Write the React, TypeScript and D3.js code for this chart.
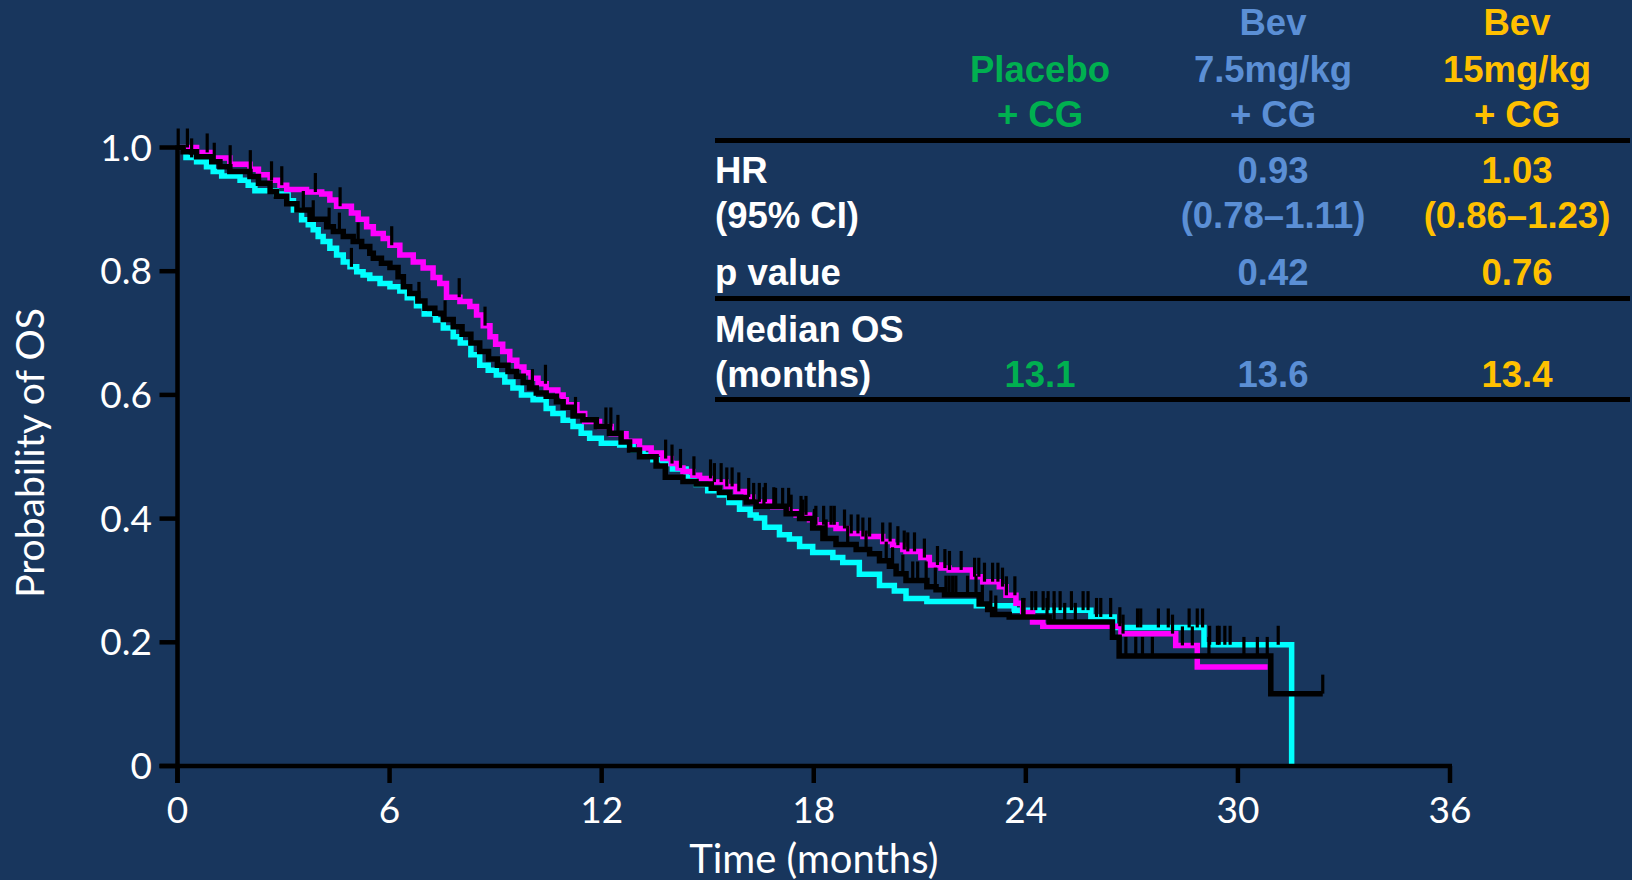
import React from "react";
import * as d3 from "d3";

// ---------- DATA ----------
const xTickValues = [0, 6, 12, 18, 24, 30, 36];
const yTickValues = [0, 0.2, 0.4, 0.6, 0.8, 1.0];
const yTickLabels = ["0", "0.2", "0.4", "0.6", "0.8", "1.0"];

// Kaplan–Meier steps [time (months), survival]
const cyanSteps: [number, number][] = [
  [0, 1], [0.24, 0.984], [0.54, 0.977], [0.82, 0.969], [1.01, 0.961], [1.25, 0.954], [1.77, 0.947],
  [2.0, 0.939], [2.19, 0.93], [2.8, 0.925], [3.13, 0.914], [3.28, 0.899], [3.51, 0.883], [3.7, 0.875],
  [3.84, 0.867], [3.98, 0.856], [4.12, 0.848], [4.31, 0.837], [4.5, 0.826], [4.69, 0.815], [4.88, 0.807],
  [5.07, 0.799], [5.25, 0.794], [5.44, 0.788], [5.73, 0.78], [6.01, 0.775], [6.29, 0.768], [6.5, 0.757],
  [6.76, 0.744], [6.98, 0.731], [7.3, 0.721], [7.52, 0.708], [7.8, 0.694], [8.0, 0.684], [8.3, 0.665],
  [8.55, 0.648], [8.79, 0.64], [9.02, 0.632], [9.26, 0.621], [9.49, 0.611], [9.73, 0.6], [10.06, 0.592],
  [10.43, 0.578], [10.62, 0.57], [10.91, 0.559], [11.19, 0.549], [11.42, 0.538], [11.66, 0.53],
  [11.99, 0.522], [12.51, 0.519], [12.89, 0.511], [13.17, 0.503], [13.45, 0.495], [13.73, 0.489],
  [14.0, 0.48], [14.39, 0.467], [14.67, 0.455], [15.0, 0.445], [15.33, 0.438], [15.6, 0.426],
  [15.9, 0.415], [16.2, 0.406], [16.37, 0.401], [16.61, 0.386], [17.03, 0.374], [17.31, 0.367],
  [17.6, 0.355], [17.97, 0.345], [18.54, 0.337], [18.82, 0.329], [19.29, 0.31], [19.86, 0.292],
  [20.28, 0.283], [20.61, 0.271], [21.2, 0.266], [22.6, 0.259], [23.67, 0.252], [25.84, 0.241],
  [26.5, 0.224], [29.04, 0.196], [31.52, 0],
];
const cyanEnd = 31.52;
const cyanCensored = [
  0.4, 4.92, 24.17, 24.28, 24.49, 24.63, 24.8, 24.97, 25.29, 25.62, 25.76, 26.0, 26.12, 26.4, 27.16,
  27.25, 27.75, 28.03, 28.62, 28.85, 29.0, 29.2, 29.42, 29.47, 29.63, 29.78, 31.14,
];

const blackSteps: [number, number][] = [
  [0, 1], [0.16, 0.993], [0.54, 0.985], [0.97, 0.977], [1.2, 0.969], [1.48, 0.961], [2.05, 0.953],
  [2.29, 0.942], [2.62, 0.929], [2.8, 0.921], [3.09, 0.909], [3.38, 0.899], [3.75, 0.884], [4.22, 0.872],
  [4.41, 0.864], [4.69, 0.856], [4.97, 0.848], [5.21, 0.84], [5.44, 0.829], [5.54, 0.821], [5.77, 0.813],
  [6.01, 0.806], [6.24, 0.791], [6.39, 0.775], [6.57, 0.764], [6.8, 0.752], [7.0, 0.74], [7.28, 0.732],
  [7.52, 0.722], [7.8, 0.71], [8.05, 0.698], [8.3, 0.684], [8.55, 0.67], [8.8, 0.658], [9.05, 0.648],
  [9.35, 0.638], [9.59, 0.63], [9.78, 0.62], [9.96, 0.611], [10.15, 0.603], [10.43, 0.598], [10.72, 0.589],
  [10.91, 0.58], [11.19, 0.566], [11.47, 0.56], [11.85, 0.549], [12.22, 0.538], [12.55, 0.524],
  [12.79, 0.511], [13.07, 0.5], [13.54, 0.485], [13.8, 0.467], [14.3, 0.46], [14.67, 0.456], [15.1, 0.449],
  [15.33, 0.442], [15.62, 0.434], [16.09, 0.427], [16.37, 0.42], [17.22, 0.408], [17.6, 0.4],
  [17.97, 0.385], [18.26, 0.368], [18.63, 0.358], [19.2, 0.35], [19.58, 0.343], [19.86, 0.332],
  [20.14, 0.323], [20.33, 0.311], [20.61, 0.3], [21.2, 0.29], [21.46, 0.285], [21.7, 0.277],
  [22.68, 0.262], [22.92, 0.253], [23.06, 0.245], [23.53, 0.241], [24.66, 0.233], [26.45, 0.208],
  [26.64, 0.178], [30.93, 0.117],
];
const blackEnd = 32.4;
const blackCensored = [
  0.02, 1.04, 3.56, 3.84, 4.29, 4.58, 5.11, 6.83, 7.57, 10.04, 11.26, 16.59, 16.87, 17.36, 17.69, 18.02,
  18.35, 18.96, 19.48, 20.05, 20.23, 20.52, 20.8, 20.94, 21.18, 21.44, 21.74, 21.83, 21.93, 22.02, 22.35,
  22.59, 22.77, 23.01, 23.15, 23.91, 23.95, 24.6, 24.8, 25.1, 25.4, 26.83, 27.11, 27.3, 27.58, 29.18,
  30.17, 30.55, 30.83, 32.4,
];

const magentaSteps: [number, number][] = [
  [0, 1], [0.54, 0.992], [0.97, 0.983], [1.48, 0.973], [2.05, 0.965], [2.29, 0.956], [2.62, 0.947],
  [2.9, 0.939], [3.09, 0.932], [3.65, 0.928], [4.08, 0.925], [4.31, 0.915], [4.5, 0.905], [4.92, 0.894],
  [5.11, 0.884], [5.35, 0.872], [5.54, 0.861], [5.82, 0.853], [6.01, 0.842], [6.29, 0.826], [6.67, 0.815],
  [6.95, 0.805], [7.23, 0.79], [7.42, 0.78], [7.61, 0.758], [7.99, 0.751], [8.27, 0.743], [8.46, 0.729],
  [8.65, 0.712], [8.84, 0.694], [9.0, 0.682], [9.2, 0.67], [9.4, 0.656], [9.6, 0.645], [9.8, 0.636],
  [10.0, 0.627], [10.2, 0.618], [10.43, 0.608], [10.76, 0.6], [10.91, 0.592], [11.0, 0.584], [11.3, 0.57],
  [11.52, 0.557], [11.94, 0.549], [12.27, 0.537], [12.69, 0.525], [13.07, 0.514], [13.4, 0.506],
  [13.73, 0.497], [13.97, 0.489], [14.16, 0.482], [14.3, 0.476], [14.58, 0.47], [14.77, 0.465],
  [15.1, 0.459], [15.52, 0.452], [15.8, 0.444], [16.09, 0.435], [16.28, 0.427], [16.84, 0.419],
  [17.31, 0.411], [17.5, 0.406], [17.88, 0.398], [18.06, 0.39], [18.63, 0.384], [19.01, 0.376],
  [19.39, 0.371], [19.95, 0.363], [20.23, 0.357], [20.52, 0.35], [20.61, 0.347], [21.03, 0.337],
  [21.27, 0.325], [21.6, 0.32], [21.83, 0.317], [22.49, 0.306], [22.78, 0.298], [23.25, 0.29],
  [23.44, 0.276], [23.72, 0.263], [23.91, 0.248], [24.19, 0.233], [24.48, 0.226], [26.69, 0.214],
  [28.24, 0.195], [28.85, 0.16],
];
const magentaEnd = 30.84;
const magentaCensored = [
  0.28, 0.84, 1.49, 2.06, 2.66, 2.95, 3.9, 4.6, 6.06, 7.97, 8.7, 10.41, 12.12, 12.26, 12.46, 13.81, 13.99,
  14.23, 14.61, 15.08, 15.19, 15.38, 15.54, 15.69, 15.88, 16.16, 16.3, 16.46, 16.63, 16.92, 17.12, 17.29,
  17.64, 17.78, 18.06, 18.28, 18.49, 18.58, 18.87, 19.06, 19.25, 19.39, 19.58, 19.95, 20.16, 20.38,
  20.56, 20.66, 20.85, 21.13, 21.5, 21.71, 21.84, 22.17, 22.55, 22.67, 22.83, 23.06, 23.21, 23.34,
  23.45, 23.69, 26.66, 26.75, 28.15, 28.43, 28.71,
];

// Table
const headerLines = [
  ["Placebo", "+ CG"],
  ["Bev", "7.5mg/kg", "+ CG"],
  ["Bev", "15mg/kg", "+ CG"],
];
const rowLabels = ["HR", "(95% CI)", "p value", "Median OS", "(months)"];
const hrValues = ["", "0.93", "1.03"];
const ciValues = ["", "(0.78–1.11)", "(0.86–1.23)"];
const pValues = ["", "0.42", "0.76"];
const medianValues = ["13.1", "13.6", "13.4"];

// ---------- STYLE ----------
const BG = "#18365D";
const colColors = ["#00B050", "#5B8FD5", "#FFC000"];
const tableFont = "'Liberation Sans', Arial, sans-serif";
const axisFont = "Lato, 'Open Sans', sans-serif";

const x = d3.scaleLinear().domain([0, 36]).range([177.5, 1450]);
const y = d3.scaleLinear().domain([0, 1]).range([766, 147.5]);

function survAt(steps: [number, number][], t: number) {
  let s = steps[0][1];
  for (const [ti, si] of steps) {
    if (ti <= t) s = si;
    else break;
  }
  return s;
}

const line = d3
  .line<[number, number]>()
  .x((d) => x(d[0]))
  .y((d) => y(d[1]))
  .curve(d3.curveStepAfter);

function pathFor(steps: [number, number][], end: number) {
  const last = steps[steps.length - 1];
  const pts = last[0] < end ? [...steps, [end, last[1]] as [number, number]] : steps;
  return line(pts) || "";
}

const series = [
  { steps: cyanSteps, end: cyanEnd, cens: cyanCensored, color: "#00FFFF" },
  { steps: magentaSteps, end: magentaEnd, cens: magentaCensored, color: "#FF00FF" },
  { steps: blackSteps, end: blackEnd, cens: blackCensored, color: "#000000" },
];

export default function App() {
  const colX = [1040, 1273, 1517];
  const tableLeft = 715;
  const fs = 36.5;
  return (
    <svg
      width={1632}
      height={880}
      style={{ position: "absolute", left: 0, top: 0, display: "block" }}
    >
      <rect x={0} y={0} width={1632} height={880} fill={BG} />

      {/* curves */}
      {series.map((s, i) => (
        <path
          key={i}
          d={pathFor(s.steps, s.end)}
          fill="none"
          stroke={s.color}
          strokeWidth={5.5}
          strokeLinejoin="miter"
        />
      ))}
      {/* censor ticks */}
      {series.map((s, i) =>
        s.cens.map((t, j) => {
          const yy = y(survAt(s.steps, t));
          return (
            <line
              key={`${i}-${j}`}
              x1={x(t)}
              x2={x(t)}
              y1={yy}
              y2={yy - 19}
              stroke="#000"
              strokeWidth={3.2}
            />
          );
        })
      )}

      {/* axes */}
      <line x1={x(0)} x2={x(0)} y1={y(1) - 2} y2={y(0) + 17} stroke="#000" strokeWidth={4.5} />
      <line x1={x(0) - 18} x2={x(36) + 2} y1={y(0)} y2={y(0)} stroke="#000" strokeWidth={4.5} />
      {yTickValues.map((v, i) => (
        <g key={`yt${i}`}>
          <line x1={x(0) - 18} x2={x(0)} y1={y(v)} y2={y(v)} stroke="#000" strokeWidth={4.5} />
          <text
            x={152}
            y={y(v) + 13}
            textAnchor="end"
            fill="#fff"
            fontFamily={axisFont}
            fontSize={37}
          >
            {yTickLabels[i]}
          </text>
        </g>
      ))}
      {xTickValues.map((v, i) => (
        <g key={`xt${i}`}>
          <line x1={x(v)} x2={x(v)} y1={y(0)} y2={y(0) + 17} stroke="#000" strokeWidth={4.5} />
          <text
            x={x(v)}
            y={823}
            textAnchor="middle"
            fill="#fff"
            fontFamily={axisFont}
            fontSize={37}
          >
            {v}
          </text>
        </g>
      ))}
      <text x={x(18)} y={873} textAnchor="middle" fill="#fff" fontFamily={axisFont} fontSize={40}>
        Time (months)
      </text>
      <text
        transform={`translate(44, 453) rotate(-90)`}
        textAnchor="middle"
        fill="#fff"
        fontFamily={axisFont}
        fontSize={39}
      >
        Probability of OS
      </text>

      {/* table */}
      <g fontFamily={tableFont} fontWeight="bold" fontSize={fs}>
        {headerLines.map((lines, ci) =>
          lines.map((txt, li) => {
            const baselines = lines.length === 3 ? [35, 82, 127] : [82, 127];
            return (
              <text key={`h${ci}-${li}`} x={colX[ci]} y={baselines[li]} textAnchor="middle" fill={colColors[ci]}>
                {txt}
              </text>
            );
          })
        )}
        {[140.5, 298.5, 399.5].map((yy, i) => (
          <line key={`tl${i}`} x1={tableLeft} x2={1630} y1={yy} y2={yy} stroke="#000" strokeWidth={5} />
        ))}
        {rowLabels.map((lbl, i) => (
          <text key={`rl${i}`} x={tableLeft} y={[183, 228, 285, 342, 387][i]} fill="#fff">
            {lbl}
          </text>
        ))}
        {hrValues.map((v, i) => (
          <text key={`hr${i}`} x={colX[i]} y={183} textAnchor="middle" fill={colColors[i]}>
            {v}
          </text>
        ))}
        {ciValues.map((v, i) => (
          <text key={`ci${i}`} x={colX[i]} y={228} textAnchor="middle" fill={colColors[i]}>
            {v}
          </text>
        ))}
        {pValues.map((v, i) => (
          <text key={`pv${i}`} x={colX[i]} y={285} textAnchor="middle" fill={colColors[i]}>
            {v}
          </text>
        ))}
        {medianValues.map((v, i) => (
          <text key={`md${i}`} x={colX[i]} y={387} textAnchor="middle" fill={colColors[i]}>
            {v}
          </text>
        ))}
      </g>
    </svg>
  );
}
